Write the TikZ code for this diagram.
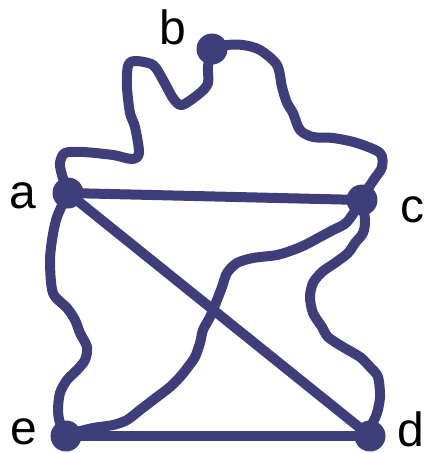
\documentclass[tikz,border=0pt]{standalone}
\usepackage{fontspec}
\setmainfont{Liberation Sans}
\definecolor{ink}{RGB}{62,62,122}
\begin{document}
\begin{tikzpicture}[x=1pt,y=-1pt,
  dot/.style={circle,fill=ink,inner sep=0pt,minimum size=31pt},
  edge/.style={draw=ink,line width=10pt,line cap=round,line join=round},
  lbl/.style={inner sep=0pt,font=\fontsize{48}{48}\selectfont}]
\useasboundingbox (0,0) rectangle (425,453);
\node[dot] (a) at (68,193) {};
\node[dot] (b) at (212,49) {};
\node[dot] (c) at (362,200) {};
\node[dot] (d) at (370,436) {};
\node[dot] (e) at (66,436) {};
\node[lbl] (la) at (23,196) {a};
\node[lbl] (lb) at (173,27) {b};
\node[lbl] (lc) at (412,210) {c};
\node[lbl] (ld) at (411,429) {d};
\node[lbl] (le) at (24,432) {e};
\draw[edge] (a.center) -- (c.center);
\draw[edge] (a.center) -- (d.center);
\draw[edge] (e.center) -- (d.center);
% b to a
\draw[edge] plot[smooth,tension=0.5] coordinates {(b.center) (208,66) (208,83) (200,93) (182,105) (173,98) (163,80) (153,65) (135,61) (128,66) (127,87) (130,113) (135,127) (139,153) (132,159) (113,155) (83,152) (65,153) (60,163) (62,175) (a.center)};
% b to c
\draw[edge] plot[smooth,tension=0.5] coordinates {(b.center) (227,45) (243,45) (260,50) (277,65) (282,87) (287,103) (293,113) (300,130) (313,137) (333,138) (357,143) (380,153) (382,167) (375,178) (367,190) (c.center)};
% c to e
\draw[edge] plot[smooth,tension=0.5] coordinates {(c.center) (347,222) (333,230) (320,237) (305,245) (293,250) (277,255) (253,258) (237,263) (227,273) (222,287) (217,300) (210,317) (203,330) (200,343) (195,357) (188,367) (180,377) (170,387) (157,397) (140,410) (127,420) (113,425) (93,428) (77,432) (e.center)};
% c to d
\draw[edge] plot[smooth,tension=0.5] coordinates {(c.center) (365,220) (363,233) (355,243) (348,253) (335,263) (322,272) (313,283) (310,297) (313,313) (322,327) (328,337) (343,347) (360,357) (370,367) (378,377) (380,397) (377,413) (372,425) (d.center)};
% a to e
\draw[edge] plot[smooth,tension=0.5] coordinates {(a.center) (57,217) (52,240) (50,263) (53,293) (67,308) (75,320) (80,333) (87,347) (85,360) (77,370) (67,380) (60,393) (58,410) (60,423) (e.center)};
\end{tikzpicture}
\end{document}
